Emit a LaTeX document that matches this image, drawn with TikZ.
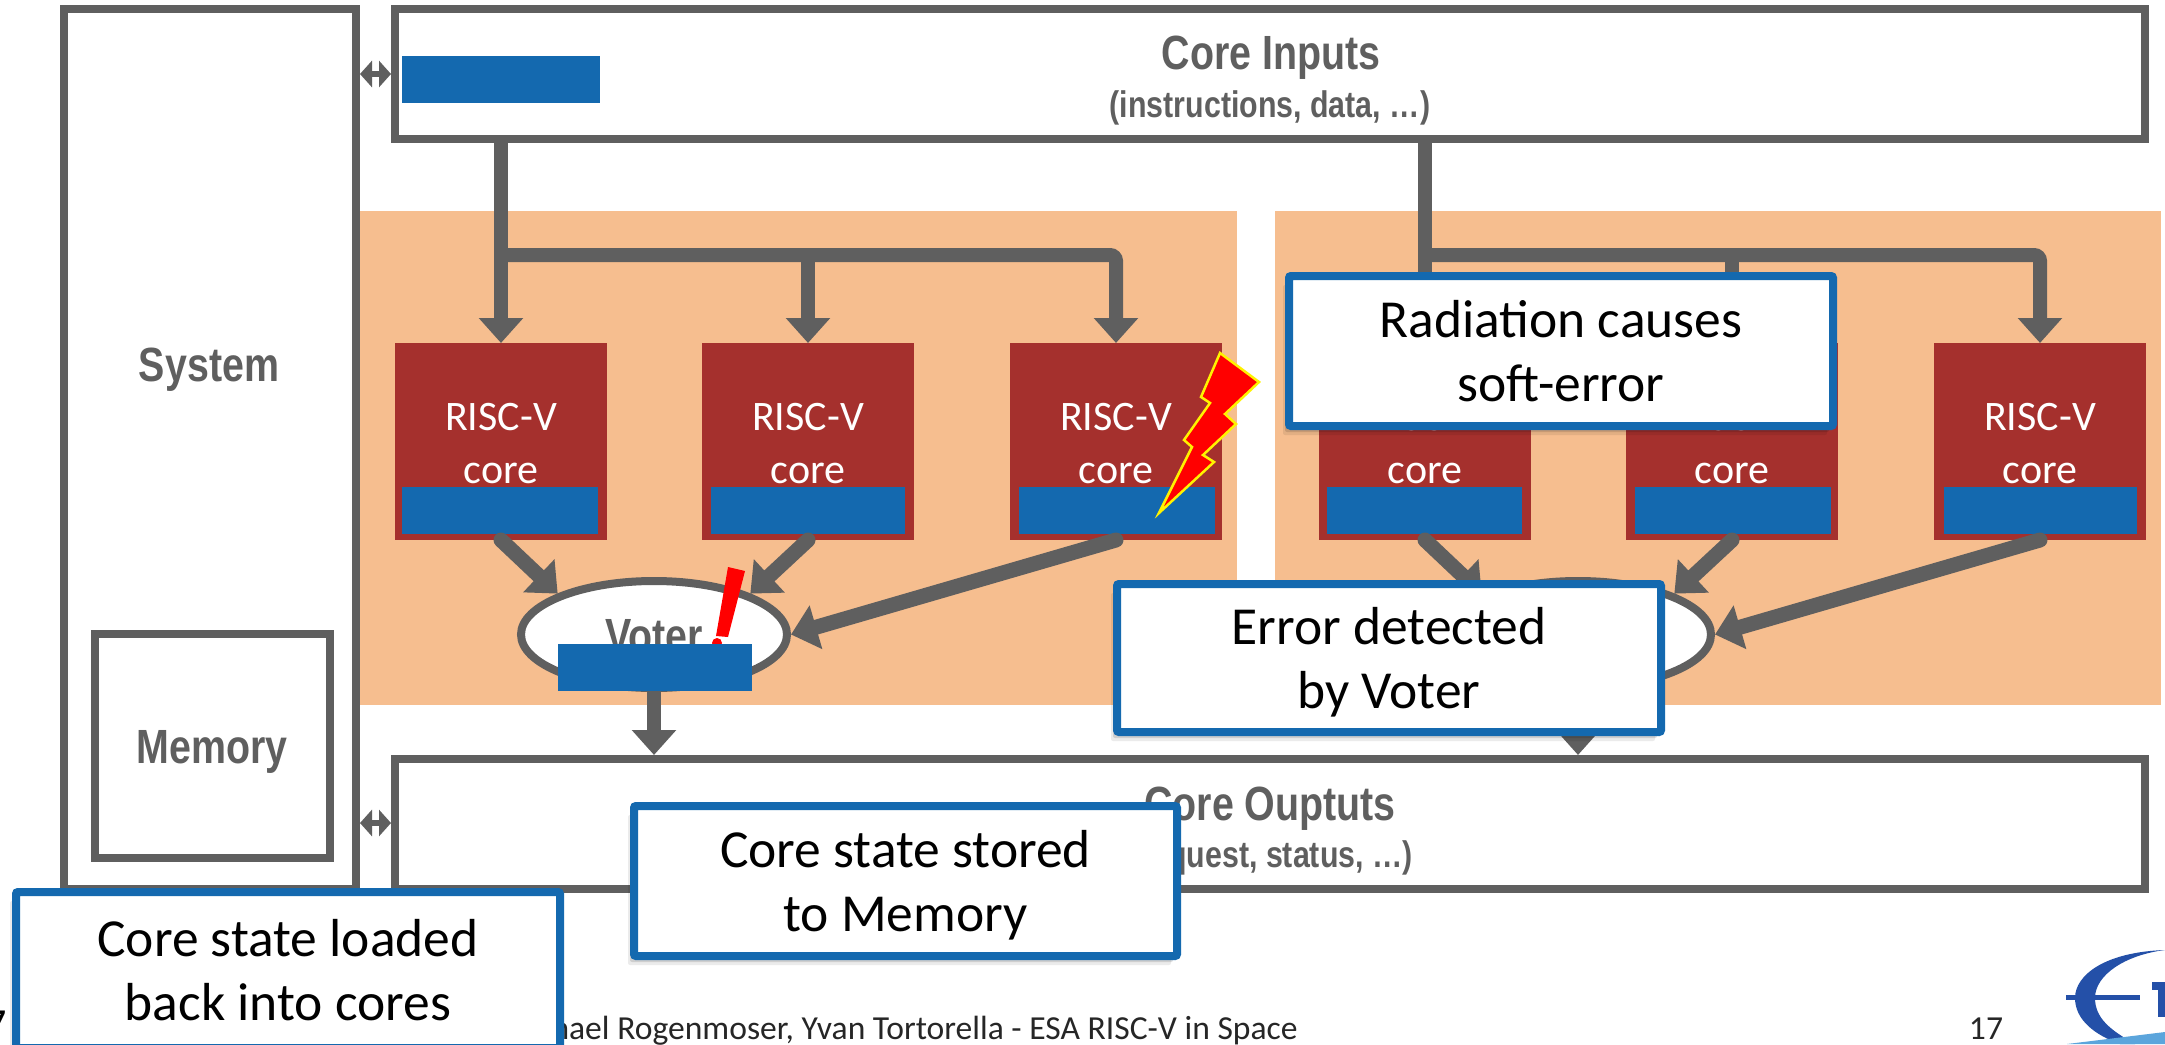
\documentclass[tikz,border=0pt]{standalone}
\usepackage{fontspec}
\usetikzlibrary{arrows.meta,shadows,calc,shapes.geometric}
\setmainfont{Carlito}
\newfontfamily\narrowfont[FakeStretch=0.82]{Liberation Sans}
\definecolor{greyc}{HTML}{5F5F5F}
\definecolor{bluec}{HTML}{1469AF}
\definecolor{brownc}{HTML}{A5302D}
\definecolor{panelc}{HTML}{F6BE8F}
\definecolor{logod}{HTML}{2450A8}
\definecolor{logol}{HTML}{5BA5DC}
\newcommand{\calltwo}[2]{\rule{0pt}{50pt}#1\\#2\rule[-13pt]{0pt}{13pt}}
\tikzset{
  panelbox/.style={fill=panelc,draw=none,inner sep=0pt,outer sep=0pt,anchor=north west},
  framebox/.style={draw=greyc,line width=8pt,fill=white,inner sep=0pt},
  barbox/.style={fill=bluec,draw=none,inner sep=0pt,outer sep=0pt,minimum height=47pt,anchor=north west},
  corebox/.style={fill=brownc,draw=none,inner sep=0pt,outer sep=0pt,minimum width=212pt,minimum height=197pt,anchor=north west},
  coretext/.style={text=white,font=\fontsize{42}{53}\selectfont,align=center,inner sep=0pt},
  greyhead/.style={font=\narrowfont\bfseries\fontsize{48}{52}\selectfont,text=greyc,inner sep=0pt},
  greysub/.style={font=\narrowfont\bfseries\fontsize{37}{42}\selectfont,text=greyc,inner sep=0pt},
  flow/.style={draw=greyc,line width=15pt,line cap=round,-{Triangle[length=26pt,width=44pt]}},
  bus/.style={draw=greyc,line width=14pt,rounded corners=6pt,-{Triangle[length=25pt,width=43pt]}},
  bidir/.style={draw=greyc,line width=6pt,{Triangle[length=12pt,width=26pt]}-{Triangle[length=12pt,width=26pt]}},
  voterell/.style={ellipse,draw=greyc,line width=8pt,fill=white,inner sep=0pt,minimum width=266pt,minimum height=107pt},
  callout/.style={draw=bluec,line width=8pt,fill=white,rounded corners=2pt,inner sep=0pt,
    font=\fontsize{53.5}{63.5}\selectfont,align=center,text=black,
    drop shadow={shadow xshift=-6pt,shadow yshift=-9pt,opacity=.08,fill=black},
    drop shadow={shadow xshift=-4pt,shadow yshift=-6pt,opacity=.12,fill=black},
    drop shadow={shadow xshift=-2pt,shadow yshift=-3pt,opacity=.16,fill=black}},
  boltshape/.style={fill=red,draw=yellow,line width=2.5pt,line join=miter},
  foot/.style={font=\fontsize{33.6}{38}\selectfont,text=black!85,inner sep=0pt},
}
\begin{document}
\begin{tikzpicture}[x=1pt,y=-1pt]
\useasboundingbox (0,0) rectangle (2165,1044);
\fill[white] (0,0) rectangle (2165,1044);
% panels
\node[panelbox,minimum width=877pt,minimum height=494pt] (p1) at (360,211) {};
\node[panelbox,minimum width=886pt,minimum height=494pt] (p2) at (1275,211) {};
% frames
\node[framebox,minimum width=292pt,minimum height=880pt] (sysbox) at (210,449) {};
\node[framebox,minimum width=235pt,minimum height=224pt] (membox) at (212.5,746) {};
\node[framebox,minimum width=1750pt,minimum height=130pt] (inbox) at (1270,74) {};
\node[framebox,minimum width=1750pt,minimum height=130pt] (outbox) at (1270,824) {};
\node[greyhead] (sys) at (209,370) {System};
\node[greyhead] (mem) at (212,752) {Memory};
\node[greyhead] (inp) at (1271,58) {Core Inputs};
\node[greysub] (inps) at (1270,108) {(instructions, data, …)};
\node[greyhead] (outp) at (1270,809) {Core Ouptuts};
\node[greysub,anchor=east] (outs) at (1413,858) {(memory request, status, …)};
\node[barbox,minimum width=198pt] (inbar) at (402,56) {};
% bidirectional links
\coordinate (uplink) at (375,74);
\coordinate (lowlink) at (375,823);
\draw[bidir] (sysbox.east |- uplink) -- (inbox.west |- uplink);
\draw[bidir] (sysbox.east |- lowlink) -- (outbox.west |- lowlink);
% cores
\node[corebox] (c1) at (395,343) {};
\node[corebox] (c2) at (702,343) {};
\node[corebox] (c3) at (1010,343) {};
\node[corebox] (c4) at (1319,343) {};
\node[corebox] (c5) at (1626,343) {};
\node[corebox] (c6) at (1934,343) {};
\foreach \c in {c1,c2,c3,c4,c5,c6}{
  \node[coretext] (\c t) at ($(\c.north)+(0,101)$) {RISC-V\\core};
}
\node[barbox,minimum width=196pt] (b1) at (402,487) {};
\node[barbox,minimum width=194pt] (b2) at (711,487) {};
\node[barbox,minimum width=196pt] (b3) at (1019,487) {};
\node[barbox,minimum width=195pt] (b4) at (1327,487) {};
\node[barbox,minimum width=196pt] (b5) at (1635,487) {};
\node[barbox,minimum width=193pt] (b6) at (1944,487) {};
% input buses
\coordinate (j1) at (c1.north |- 0,255);
\coordinate (j2) at (c4.north |- 0,255);
\draw[bus] (inbox.south -| c1.north) -- (c1.north);
\draw[bus] (j1 -| c2.north) -- (c2.north);
\draw[bus] (j1) -- (j1 -| c3.north) -- (c3.north);
\draw[bus] (inbox.south -| c4.north) -- (c4.north);
\draw[bus] (j2 -| c5.north) -- (c5.north);
\draw[bus] (j2) -- (j2 -| c6.north) -- (c6.north);
% voters
\node[voterell] (v1) at (654,634.5) {};
\node[voterell] (v2) at (1578,634.5) {};
\node[greyhead] (v1t) at (654,636) {Voter};
\node[greyhead] (v2t) at (1578,636) {Voter};
\fill[red] (728,567) -- (745,571) -- (728,637) -- (716,636) -- cycle;
\fill[red] (717,643) circle (5);
\node[barbox,minimum width=194pt] (vb1) at (558,644) {};
\foreach \v/\a/\b/\e in {v1/c1/c2/c3,v2/c4/c5/c6}{
  \draw[flow] (\a.south) -- (\v.157);
  \draw[flow] (\b.south) -- (\v.23);
  \draw[flow] (\e.south) -- (\v.east);
}
\draw[bus] (v1.south) -- (outbox.north -| v1.south);
\draw[bus] (v2.south) -- (outbox.north -| v2.south);
% lightning
\draw[boltshape] (1220,353) -- (1259,382) -- (1225,414) -- (1236,424) -- (1203,455) -- (1214,462) -- (1159,513) -- (1192,447) -- (1184,440) -- (1210,403) -- (1201,397) -- cycle;
% footer
\node[foot,anchor=base east] (ftxt) at (1298,1039) {Michael Rogenmoser, Yvan Tortorella - ESA RISC-V in Space};
\node[foot,anchor=base] (fnum) at (1986,1039) {17};
\node[font=\fontsize{46}{50}\selectfont,inner sep=0pt,anchor=base east] (fdate) at (7,1040) {7};
% logo
\fill[logod] (2165,950) .. controls (2105,952) and (2075,975) .. (2075,998) .. controls (2075,1020) and (2095,1035) .. (2120,1044) -- (2135,1044) .. controls (2110,1030) and (2095,1018) .. (2095,998) .. controls (2095,975) and (2125,955) .. (2165,950) -- cycle;
\fill[logod] (2066,995) rectangle (2140,1000);
\fill[logod] (2152,982) rectangle (2165,990);
\fill[logod] (2158,990) rectangle (2165,1017);
\fill[logol] (2067,1044) -- (2165,1032) -- (2165,1044) -- cycle;
% callouts
\node[callout,minimum width=544pt,minimum height=150pt] (cr) at (1561,351) {\calltwo{Radiation causes}{soft-error}};
\node[callout,minimum width=544pt,minimum height=148pt] (ce) at (1389,658) {\calltwo{Error detected}{by Voter}};
\node[callout,minimum width=543pt,minimum height=150pt] (cs) at (905.5,881) {\calltwo{Core state stored}{to Memory}};
\node[callout,minimum width=544pt,minimum height=156pt] (cl) at (288,970) {\calltwo{Core state loaded}{back into cores}};
\end{tikzpicture}
\end{document}
